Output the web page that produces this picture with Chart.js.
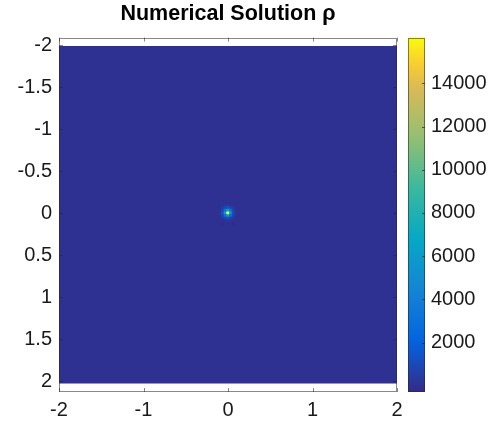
<!DOCTYPE html>
<html>
<head>
<meta charset="utf-8">
<style>
  html, body { margin: 0; padding: 0; background: #ffffff; }
  #c { display: block; }
</style>
<script src="https://cdn.jsdelivr.net/npm/chart.js@4.4.1/dist/chart.umd.min.js"></script>
</head>
<body>
<canvas id="c" width="492" height="422"></canvas>
<script>
// ---------------- data ----------------
const titleText = 'Numerical Solution ρ';
const xTicks = [-2, -1, 0, 1, 2];
const yTicks = [-2, -1.5, -1, -0.5, 0, 0.5, 1, 1.5, 2];
const cbTicks = [2000, 4000, 6000, 8000, 10000, 12000, 14000];
const xLimits = [-2, 2];
const yLimits = [-2.09, 2.13];
const cbLimits = [-290, 16120];
// extent of the computed field (uniform background value)
const fieldX = [-2, 2];
const fieldY = [-1.99, 2.03];
const backgroundValue = 0;
// small grid of cells around the peak at the origin
const spotX = [-0.128, -0.096, -0.064, -0.032, 0, 0.032, 0.064, 0.096, 0.128];
const spotY = [-0.128, -0.096, -0.064, -0.032, 0, 0.032, 0.064, 0.096, 0.128];
const spotValues = [
  [0, 0, 0,    0,    0,     0,    0,    0, 0],
  [0, 0, 0,    100,  150,   100,  0,    0, 0],
  [0, 0, 300,  800,  1200,  800,  300,  0, 0],
  [0, 100, 800, 3000, 6000, 3000, 800, 100, 0],
  [0, 150, 1200, 6000, 16100, 6000, 1200, 150, 0],
  [0, 100, 800, 3000, 6000, 3000, 800, 100, 0],
  [0, 0, 300,  800,  1200,  800,  300,  0, 0],
  [0, 0, 0,    100,  150,   100,  0,    0, 0],
  [0, 0, -250, 0,    0,     0,    -250, 0, 0]
];

// ---------------- colour map (parula) ----------------
const parulaStops = [
  [0.000, [53, 42, 135]],
  [0.143, [3, 99, 225]],
  [0.286, [20, 133, 212]],
  [0.429, [6, 167, 198]],
  [0.571, [56, 185, 158]],
  [0.714, [146, 191, 115]],
  [0.857, [217, 186, 86]],
  [0.930, [252, 206, 46]],
  [1.000, [249, 251, 14]]
];
function parulaFrac(t) {
  t = Math.max(0, Math.min(1, t));
  for (let i = 1; i < parulaStops.length; i++) {
    const [t1, c1] = parulaStops[i];
    const [t0, c0] = parulaStops[i - 1];
    if (t <= t1) {
      const f = (t - t0) / (t1 - t0);
      const c = c0.map((v, k) => Math.round(v + (c1[k] - v) * f));
      return `rgb(${c[0]},${c[1]},${c[2]})`;
    }
  }
  const c = parulaStops[parulaStops.length - 1][1];
  return `rgb(${c[0]},${c[1]},${c[2]})`;
}
function parula(v) {
  return parulaFrac((v - cbLimits[0]) / (cbLimits[1] - cbLimits[0]));
}

// ---------------- datasets built from the arrays ----------------
const spotPoints = [];
spotY.forEach((y, r) => {
  spotX.forEach((x, c) => {
    spotPoints.push({ x: x, y: y, v: spotValues[r][c] });
  });
});
const cellSize = spotX[1] - spotX[0];

const FONT = "'Liberation Sans', Arial, Helvetica, sans-serif";
const TXT = '#1a1a1a';
const BOX = 'rgba(38,38,38,0.55)';
const TICK_FONT = { family: FONT, size: 20 };

const decorations = {
  id: 'decorations',
  beforeDraw(chart) {
    const ctx = chart.ctx;
    ctx.save();
    ctx.fillStyle = '#ffffff';
    ctx.fillRect(0, 0, chart.width, chart.height);
    ctx.restore();
  },
  afterDatasetsDraw(chart) {
    const ctx = chart.ctx;
    const a = chart.chartArea;
    const xs = chart.scales.x, ys = chart.scales.y, cb = chart.scales.cb;
    ctx.save();
    // axes box
    ctx.strokeStyle = BOX;
    ctx.lineWidth = 1;
    ctx.strokeRect(Math.round(a.left) + 0.5, Math.round(a.top) + 0.5,
                   Math.round(a.right - a.left) - 1, Math.round(a.bottom - a.top) - 1);
    // inner tick marks
    ctx.beginPath();
    xTicks.forEach(v => {
      const px = Math.round(xs.getPixelForValue(v)) + 0.5;
      ctx.moveTo(px, a.top); ctx.lineTo(px, a.top + 4);
      ctx.moveTo(px, a.bottom); ctx.lineTo(px, a.bottom - 4);
    });
    yTicks.forEach(v => {
      const py = Math.round(ys.getPixelForValue(v)) + 0.5;
      ctx.moveTo(a.left, py); ctx.lineTo(a.left + 4, py);
      ctx.moveTo(a.right, py); ctx.lineTo(a.right - 4, py);
    });
    ctx.stroke();
    // colour bar
    const cbLeft = 408, cbRight = 425;
    const top = cb.getPixelForValue(cbLimits[1]);
    const bot = cb.getPixelForValue(cbLimits[0]);
    const grad = ctx.createLinearGradient(0, bot, 0, top);
    for (let i = 0; i <= 40; i++) grad.addColorStop(i / 40, parulaFrac(i / 40));
    ctx.fillStyle = grad;
    ctx.fillRect(cbLeft, top, cbRight - cbLeft, bot - top);
    ctx.strokeStyle = BOX;
    ctx.strokeRect(cbLeft + 0.5, Math.round(top) + 0.5, cbRight - cbLeft - 1, Math.round(bot - top) - 1);
    ctx.strokeStyle = 'rgba(38,38,38,0.7)';
    ctx.beginPath();
    cbTicks.forEach(v => {
      const py = Math.round(cb.getPixelForValue(v)) + 0.5;
      ctx.moveTo(cbRight - 3, py); ctx.lineTo(cbRight, py);
    });
    ctx.stroke();
    ctx.restore();
  }
};

const fixTicks = (arr) => (scale) => { scale.ticks = arr.map(v => ({ value: v })); };

new Chart(document.getElementById('c'), {
  type: 'scatter',
  data: {
    datasets: [
      {
        type: 'line',
        label: 'field',
        data: [{ x: fieldX[0], y: fieldY[0] }, { x: fieldX[1], y: fieldY[0] }],
        fill: { value: fieldY[1] },
        backgroundColor: parula(backgroundValue),
        borderWidth: 0,
        pointRadius: 0,
        order: 2
      },
      {
        label: 'peak',
        data: spotPoints,
        pointStyle: 'rect',
        rotation: 0,
        borderWidth: 0,
        radius: (c) => {
          const s = c.chart.scales.x;
          const px = Math.abs(s.getPixelForValue(cellSize) - s.getPixelForValue(0));
          return (px + 0.6) / Math.SQRT2;
        },
        hoverRadius: 0,
        backgroundColor: (c) => parula(c.raw ? c.raw.v : backgroundValue),
        order: 1
      }
    ]
  },
  options: {
    responsive: false,
    animation: false,
    devicePixelRatio: 1,
    events: [],
    layout: { padding: 0 },
    plugins: {
      legend: { display: false },
      tooltip: { enabled: false },
      title: {
        display: true,
        text: titleText,
        fullSize: false,
        color: '#000',
        font: { family: FONT, size: 21.5, weight: 'bold', lineHeight: 1.2 },
        padding: { top: 1, bottom: 10.8 }
      }
    },
    scales: {
      x: {
        type: 'linear',
        position: 'bottom',
        min: xLimits[0], max: xLimits[1],
        afterBuildTicks: fixTicks(xTicks),
        afterFit: (s) => { s.height = 30; },
        grid: { display: false, drawTicks: true, tickLength: 6 },
        border: { display: false },
        ticks: {
          autoSkip: false, maxRotation: 0, padding: 0,
          color: TXT, font: TICK_FONT,
          callback: (v) => String(v)
        }
      },
      y: {
        type: 'linear',
        position: 'left',
        reverse: true,
        min: yLimits[0], max: yLimits[1],
        afterBuildTicks: fixTicks(yTicks),
        afterFit: (s) => { s.width = 59; },
        grid: { display: false, drawTicks: true, tickLength: 7 },
        border: { display: false },
        ticks: {
          autoSkip: false, padding: 0,
          color: TXT, font: TICK_FONT,
          callback: (v) => String(v)
        }
      },
      cb: {
        type: 'linear',
        position: 'right',
        min: cbLimits[0], max: cbLimits[1],
        afterBuildTicks: fixTicks(cbTicks),
        afterFit: (s) => { s.width = 95; },
        grid: { display: false, drawTicks: true, tickLength: 34 },
        border: { display: false },
        ticks: {
          autoSkip: false, padding: 0,
          color: TXT, font: TICK_FONT,
          callback: (v) => String(v)
        }
      }
    }
  },
  plugins: [decorations]
});
</script>
</body>
</html>
